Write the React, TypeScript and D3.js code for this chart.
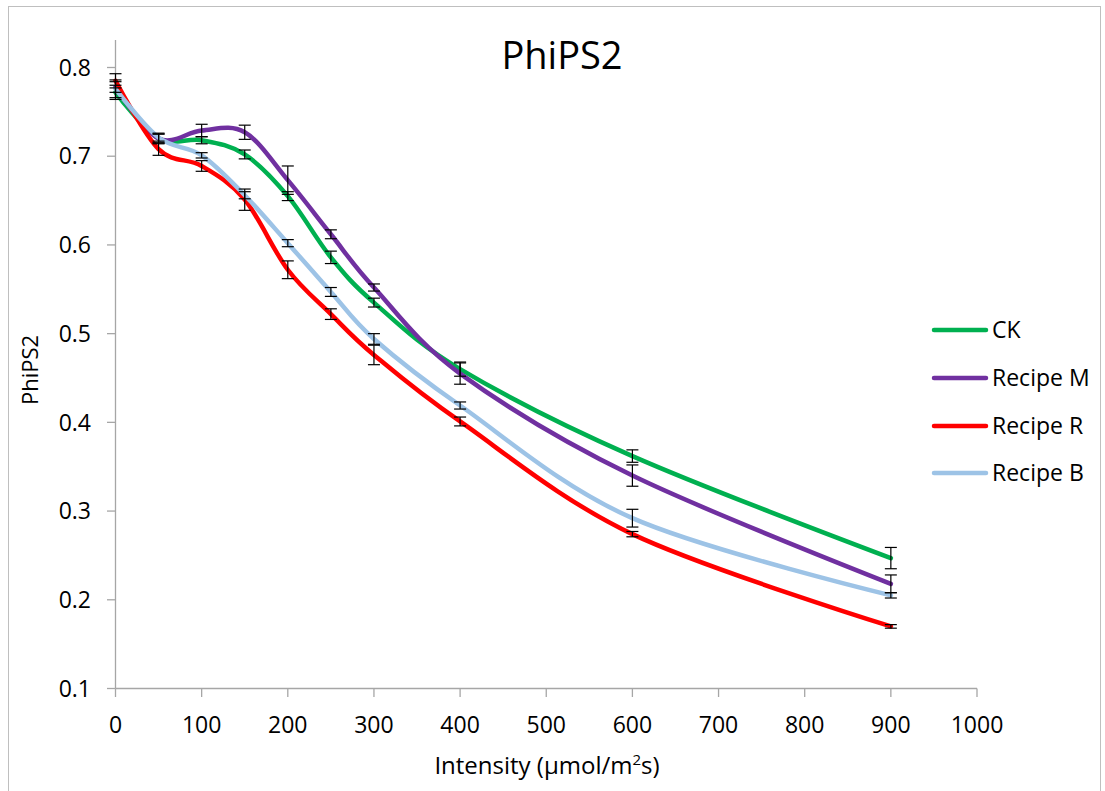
import React from "react";
import * as d3 from "d3";

const intensities = [0, 50, 100, 150, 200, 250, 300, 400, 600, 900];
const seriesNames = ["CK", "Recipe M", "Recipe R", "Recipe B"];
const seriesColors = ["#00B050", "#7030A0", "#FF0000", "#9DC3E6"];
const ckValues = [0.772, 0.72, 0.718, 0.702, 0.655, 0.586, 0.535, 0.46, 0.362, 0.247];
const ckErrors = [0.008, 0.005, 0.004, 0.005, 0.005, 0.007, 0.005, 0.008, 0.007, 0.012];
const mValues = [0.778, 0.72, 0.729, 0.727, 0.673, 0.612, 0.552, 0.455, 0.34, 0.218];
const mErrors = [0.006, 0.006, 0.007, 0.008, 0.016, 0.005, 0.004, 0.012, 0.012, 0.01];
const rValues = [0.785, 0.708, 0.689, 0.651, 0.572, 0.522, 0.476, 0.401, 0.274, 0.17];
const rErrors = [0.008, 0.007, 0.006, 0.012, 0.01, 0.006, 0.011, 0.005, 0.003, 0.002];
const bValues = [0.776, 0.721, 0.701, 0.656, 0.602, 0.547, 0.494, 0.419, 0.292, 0.205];
const bErrors = [0.01, 0.004, 0.003, 0.004, 0.004, 0.005, 0.006, 0.004, 0.01, 0.003];
const xTicks = [0, 100, 200, 300, 400, 500, 600, 700, 800, 900, 1000];
const yTicks = [0.1, 0.2, 0.3, 0.4, 0.5, 0.6, 0.7, 0.8];

const FONT = "'Open Sans', 'Liberation Sans', sans-serif";

export default function App() {
  const W = 1105;
  const H = 791;
  const x = d3.scaleLinear().domain([0, 1000]).range([115.5, 977]);
  const y = d3.scaleLinear().domain([0.1, 0.8]).range([688.5, 67.5]);
  const allValues = [ckValues, mValues, rValues, bValues];
  const allErrors = [ckErrors, mErrors, rErrors, bErrors];
  const line = d3
    .line<[number, number]>()
    .x((d) => x(d[0]))
    .y((d) => y(d[1]))
    .curve(d3.curveCardinal.tension(0));
  const axisColor = "#A6A6A6";
  const legendY = [330, 378, 426, 473];

  return (
    <svg
      width={W}
      height={H}
      style={{ position: "absolute", left: 0, top: 0, background: "#fff" }}
    >
      <rect x={8.5} y={6.5} width={1092} height={800} fill="#fff" stroke="#BFBFBF" strokeWidth={1} />
      <text x={562} y={69} textAnchor="middle" fontFamily={FONT} fontSize={38} fill="#000">
        PhiPS2
      </text>
      {/* y axis */}
      <line x1={115.5} x2={115.5} y1={40} y2={688.5} stroke={axisColor} strokeWidth={1.3} />
      {yTicks.map((t) => (
        <g key={"y" + t}>
          <line x1={107} x2={115.5} y1={y(t)} y2={y(t)} stroke={axisColor} strokeWidth={1.3} />
          <text
            x={91}
            y={y(t)}
            dy="0.36em"
            textAnchor="end"
            fontFamily={FONT}
            fontSize={23}
            fill="#000"
          >
            {t.toFixed(1)}
          </text>
        </g>
      ))}
      {/* x axis */}
      <line x1={115.5} x2={977} y1={688.5} y2={688.5} stroke={axisColor} strokeWidth={1.3} />
      {xTicks.map((t) => (
        <g key={"x" + t}>
          <line x1={x(t)} x2={x(t)} y1={688.5} y2={697} stroke={axisColor} strokeWidth={1.3} />
          <text x={x(t)} y={733} textAnchor="middle" fontFamily={FONT} fontSize={23} fill="#000">
            {t}
          </text>
        </g>
      ))}
      <text x={547} y={774} textAnchor="middle" fontFamily={FONT} fontSize={24} fill="#000">
        Intensity (µmol/m<tspan fontSize={15} dy={-9}>2</tspan>
        <tspan dy={9}>s)</tspan>
      </text>
      <text
        transform="translate(38,370) rotate(-90)"
        textAnchor="middle"
        fontFamily={FONT}
        fontSize={22}
        fill="#000"
      >
        PhiPS2
      </text>
      {/* lines */}
      {allValues.map((vals, i) => (
        <path
          key={"l" + i}
          d={line(intensities.map((xi, j) => [xi, vals[j]] as [number, number])) || ""}
          fill="none"
          stroke={seriesColors[i]}
          strokeWidth={4.5}
          strokeLinecap="round"
          strokeLinejoin="round"
        />
      ))}
      {/* error bars */}
      {allValues.map((vals, i) =>
        intensities.map((xi, j) => {
          const cx = x(xi);
          const top = y(vals[j] + allErrors[i][j]);
          const bot = y(vals[j] - allErrors[i][j]);
          return (
            <g key={"e" + i + "-" + j} stroke="#000" strokeWidth={1.2}>
              <line x1={cx} x2={cx} y1={top} y2={bot} />
              <line x1={cx - 6} x2={cx + 6} y1={top} y2={top} />
              <line x1={cx - 6} x2={cx + 6} y1={bot} y2={bot} />
            </g>
          );
        })
      )}
      {/* legend */}
      {seriesNames.map((name, i) => (
        <g key={"lg" + i}>
          <line
            x1={934}
            x2={986}
            y1={legendY[i]}
            y2={legendY[i]}
            stroke={seriesColors[i]}
            strokeWidth={4.5}
            strokeLinecap="round"
          />
          <text
            x={992}
            y={legendY[i]}
            dy="0.36em"
            fontFamily={FONT}
            fontSize={23}
            fill="#000"
          >
            {name}
          </text>
        </g>
      ))}
    </svg>
  );
}
